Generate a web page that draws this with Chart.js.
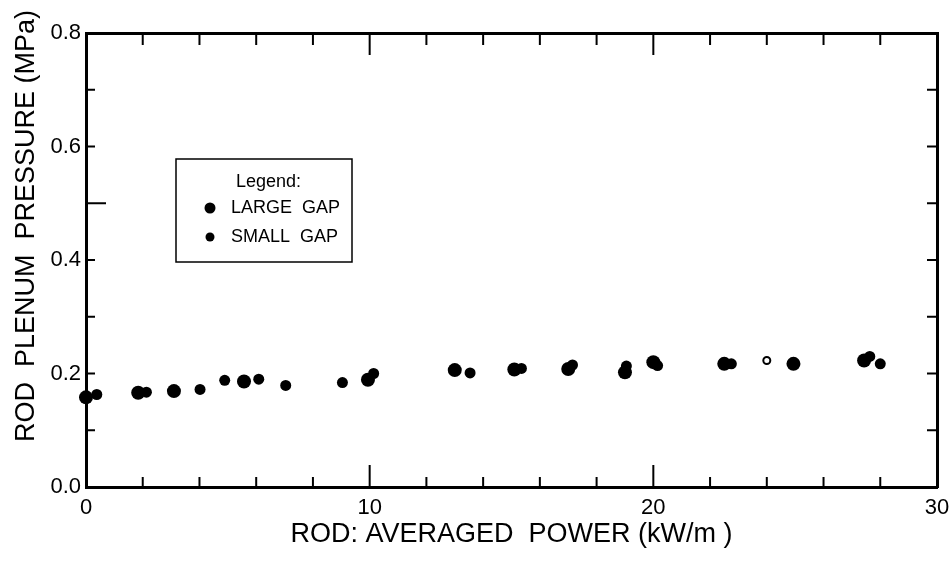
<!DOCTYPE html>
<html>
<head>
<meta charset="utf-8">
<script src="https://cdn.jsdelivr.net/npm/chart.js@4.4.1/dist/chart.umd.min.js"></script>
<style>
	body { margin: 0; background: #fff; }
	#wrap { width: 951px; height: 561px; }
</style>
</head>
<body>
<div id="wrap"><canvas id="chart" width="951" height="561"></canvas></div>
<script>
// rod averaged power (kW/m) vs plenum pressure (MPa)
const largeGapPower = [0, 1.84, 3.1, 5.57, 9.94, 13.0, 15.1, 17.0, 19.0, 20.0, 22.5, 24.94, 27.43];
const largeGapPress = [0.158, 0.166, 0.169, 0.186, 0.189, 0.206, 0.207, 0.208, 0.202, 0.220, 0.217, 0.217, 0.223];

const smallGapPower = [0.38, 2.13, 4.02, 4.89, 6.09, 7.04, 9.04, 10.14, 13.54, 15.35, 17.15, 19.05, 20.15, 22.75, 27.63, 28.0];
const smallGapPress = [0.163, 0.167, 0.172, 0.188, 0.190, 0.179, 0.184, 0.200, 0.201, 0.209, 0.215, 0.213, 0.214, 0.217, 0.230, 0.217];

// single open point
const openPower = [24.0];
const openPress = [0.223];

const xTickMarks = [0, 2, 4, 6, 8, 10, 12, 14, 16, 18, 20, 22, 24, 26, 28, 30];
const xLongTicks = [10, 20];
const yTickMarks = [0.1, 0.2, 0.3, 0.4, 0.5, 0.6, 0.7];
const yLongTicks = [0.5];

const xTitle = 'ROD: AVERAGED  POWER (kW/m )';
const yTitle = 'ROD  PLENUM  PRESSURE (MPa)';
const legendHead = 'Legend:';

const FONT = "'Liberation Sans', Arial, sans-serif";

function toPoints(xs, ys) {
	return xs.map((x, i) => ({ x: x, y: ys[i] }));
}

// inward tick marks on all four sides
const frameTicks = {
	id: 'frameTicks',
	afterDatasetsDraw(chart) {
		const { ctx, chartArea: a, scales } = chart;
		ctx.save();
		ctx.strokeStyle = '#000';
		ctx.lineWidth = 2;
		ctx.beginPath();
		xTickMarks.forEach(v => {
			let px = scales.x.getPixelForValue(v);
			let bl = xLongTicks.includes(v) ? 22 : 10;
			let tl = xLongTicks.includes(v) ? 22 : 12;
			ctx.moveTo(px, a.bottom); ctx.lineTo(px, a.bottom - bl);
			ctx.moveTo(px, a.top); ctx.lineTo(px, a.top + tl);
		});
		yTickMarks.forEach(v => {
			let py = scales.y.getPixelForValue(v);
			let ll = yLongTicks.includes(v) ? 20 : 9;
			ctx.moveTo(a.left, py); ctx.lineTo(a.left + ll, py);
			ctx.moveTo(a.right, py); ctx.lineTo(a.right - 10, py);
		});
		ctx.stroke();
		ctx.restore();
	}
};

// axis titles
const axisTitles = {
	id: 'axisTitles',
	afterDraw(chart) {
		const { ctx, chartArea: a } = chart;
		ctx.save();
		ctx.fillStyle = '#000';
		ctx.font = '27px ' + FONT;
		ctx.textAlign = 'center';
		ctx.textBaseline = 'middle';
		ctx.fillText(xTitle, (a.left + a.right) / 2, 535);
		ctx.translate(27, 226);
		ctx.rotate(-Math.PI / 2);
		ctx.fillText(yTitle, 0, 0);
		ctx.restore();
	}
};

// boxed legend inside the plot
const boxLegend = {
	id: 'boxLegend',
	afterDraw(chart) {
		const { ctx } = chart;
		const sets = chart.data.datasets.slice(0, 2);
		ctx.save();
		ctx.strokeStyle = '#000';
		ctx.lineWidth = 1.5;
		ctx.strokeRect(176, 159, 176, 103);
		ctx.fillStyle = '#000';
		ctx.font = '18px ' + FONT;
		ctx.textBaseline = 'middle';
		ctx.fillText(legendHead, 236, 182);
		sets.forEach((ds, i) => {
			let cy = 208 + i * 29;
			ctx.beginPath();
			ctx.arc(210, cy, i == 0 ? 5.5 : 4.5, 0, Math.PI * 2);
			ctx.fill();
			ctx.fillText(ds.label, 231, cy);
		});
		ctx.restore();
	}
};

const borderOpts = { display: true, color: '#000', width: 3 };

// keep the frame fixed, ignore label overhang
function noPad(s) {
	s.paddingLeft = 0;
	s.paddingRight = 0;
	s.paddingTop = 0;
	s.paddingBottom = 0;
}

let ctx = document.getElementById('chart').getContext('2d');
let pressureChart = new Chart(ctx, {
	type: 'scatter',
	data: {
		datasets: [ {
			label: 'LARGE  GAP',
			data: toPoints(largeGapPower, largeGapPress),
			backgroundColor: '#000',
			borderColor: '#000',
			borderWidth: 0,
			pointRadius: 7,
			clip: false
		}, {
			label: 'SMALL  GAP',
			data: toPoints(smallGapPower, smallGapPress),
			backgroundColor: '#000',
			borderColor: '#000',
			borderWidth: 0,
			pointRadius: 5.5,
			clip: false
		}, {
			label: '',
			data: toPoints(openPower, openPress),
			backgroundColor: '#fff',
			borderColor: '#000',
			borderWidth: 2,
			pointRadius: 3.5,
			clip: false
		} ]
	},
	options: {
		responsive: false,
		animation: false,
		layout: { padding: 0 },
		plugins: {
			legend: { display: false },
			tooltip: { enabled: false }
		},
		scales: {
			x: {
				type: 'linear',
				position: 'bottom',
				min: 0,
				max: 30,
				ticks: { stepSize: 10, color: '#000', padding: 8, maxRotation: 0, font: { family: FONT, size: 22 } },
				grid: { display: false, drawTicks: false },
				border: borderOpts,
				afterFit: s => { s.height = 74; noPad(s); }
			},
			x2: {
				type: 'linear',
				position: 'top',
				display: true,
				min: 0,
				max: 30,
				ticks: { display: false },
				grid: { display: false, drawTicks: false },
				border: borderOpts,
				afterFit: s => { s.height = 33; noPad(s); }
			},
			y: {
				type: 'linear',
				position: 'left',
				min: 0,
				max: 0.8,
				ticks: {
					stepSize: 0.2,
					color: '#000',
					padding: 5,
					font: { family: FONT, size: 22 },
					callback: v => v.toFixed(1)
				},
				grid: { display: false, drawTicks: false },
				border: borderOpts,
				afterFit: s => { s.width = 86; noPad(s); }
			},
			y2: {
				type: 'linear',
				position: 'right',
				display: true,
				min: 0,
				max: 0.8,
				ticks: { display: false },
				grid: { display: false, drawTicks: false },
				border: borderOpts,
				afterFit: s => { s.width = 14; noPad(s); }
			}
		}
	},
	plugins: [frameTicks, axisTitles, boxLegend]
});
</script>
</body>
</html>
